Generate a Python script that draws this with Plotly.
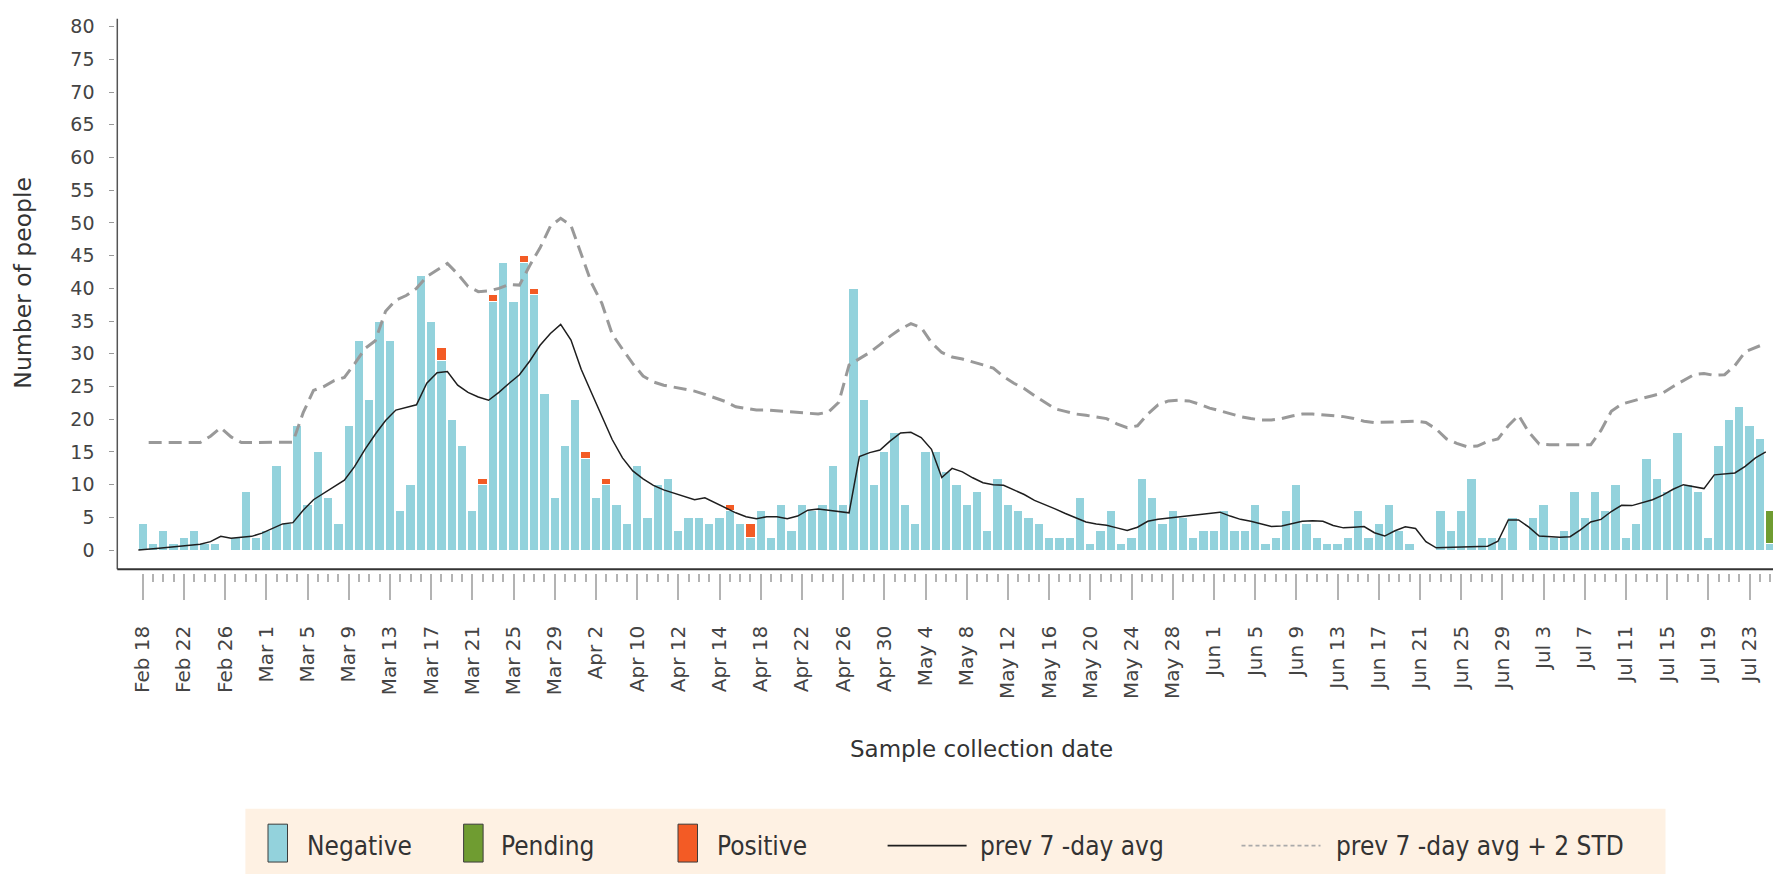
import plotly.graph_objects as go

W, H = 1773, 874

# ---------------- data ----------------
tick_labels = ["Feb 18", "Feb 22", "Feb 26", "Mar 1", "Mar 5", "Mar 9", "Mar 13", "Mar 17",
               "Mar 21", "Mar 25", "Mar 29", "Apr 2", "Apr 10", "Apr 12", "Apr 14", "Apr 18",
               "Apr 22", "Apr 26", "Apr 30", "May 4", "May 8", "May 12", "May 16", "May 20",
               "May 24", "May 28", "Jun 1", "Jun 5", "Jun 9", "Jun 13", "Jun 17", "Jun 21",
               "Jun 25", "Jun 29", "Jul 3", "Jul 7", "Jul 11", "Jul 15", "Jul 19", "Jul 23"]
LABEL_EVERY = 4

negative = [4, 1, 3, 1, 2, 3, 1, 1, None, 2,
            9, 2, 3, 13, 4, 19, 7, 15, 8, 4,
            19, 32, 23, 35, 32, 6, 10, 42, 35, 29,
            20, 16, 6, 10, 38, 44, 38, 44, 39, 24,
            8, 16, 23, 14, 8, 10, 7, 4, 13, 5,
            10, 11, 3, 5, 5, 4, 5, 6, 4, 2,
            6, 2, 7, 3, 7, 6, 7, 13, 7, 40,
            23, 10, 15, 18, 7, 4, 15, 15, 12, 10,
            7, 9, 3, 11, 7, 6, 5, 4, 2, 2,
            2, 8, 1, 3, 6, 1, 2, 11, 8, 4,
            6, 5, 2, 3, 3, 6, 3, 3, 7, 1,
            2, 6, 10, 4, 2, 1, 1, 2, 6, 2,
            4, 7, 3, 1, None, None, 6, 3, 6, 11,
            2, 2, 2, 5, None, 5, 7, 2, 3, 9,
            5, 9, 6, 10, 2, 4, 14, 11, 9, 18,
            10, 9, 2, 16, 20, 22, 19, 17, 1]

pending = [None] * 158 + [5]

positive = [None] * 159
for day_i, count in [(29, 2), (33, 1), (34, 1), (37, 1), (38, 1), (43, 1), (45, 1), (57, 1), (59, 2)]:
    positive[day_i] = count

avg7 = [0, 0.2, 0.3, 0.45, 0.6, 0.75, 0.9, 1.3, 2.1, 1.8,
        1.95, 2.1, 2.6, 3.25, 4.0, 4.2, 6.1, 7.7, 8.7, 9.6,
        10.7, 12.8, 15.4, 17.7, 19.8, 21.4, 21.8, 22.2, 25.5, 27.1,
        27.3, 25.2, 24.1, 23.4, 22.9, 24.1, 25.5, 26.8, 28.9, 31.3,
        33.1, 34.5, 32.1, 27.6, 24.0, 20.5, 16.9, 14.1, 12.1, 10.9,
        9.9, 9.2, 8.7, 8.3, 7.7, 8.0, 7.2, 6.5, 5.7, 5.1,
        4.8, 5.1, 5.1, 4.8, 5.2, 6.1, 6.3, 6.1, 5.9, 5.7,
        14.3, 14.9, 15.3, 16.7, 17.9, 18.0, 17.2, 15.4, 11.1, 12.5,
        11.95, 11.05, 10.3, 10.0, 9.9, 9.2, 8.5, 7.6, 7.0, 6.3,
        5.6, 5.0, 4.3, 4.0, 3.8, 3.4, 3.0, 3.5, 4.4, 4.7,
        4.9, 5.0, 5.3, 5.5, 5.6, 5.8, 5.2, 4.7, 4.4, 4.0,
        3.6, 3.7, 4.1, 4.4, 4.5, 4.4, 3.75, 3.4, 3.5, 3.6,
        2.65, 2.15, 2.95, 3.55, 3.3, 1.3, 0.35, 0.4, 0.45, 0.5,
        0.55, 0.6, 1.35, 4.6, 4.6, 3.5, 2.15, 2.0, 1.95, 2.05,
        3.1, 4.3, 4.7, 5.9, 6.85, 6.8, 7.2, 7.7, 8.4, 9.3,
        10.0, 9.7, 9.4, 11.5, 11.65, 11.8, 12.8, 14.1, 15.0]

avg7_2std = [None, 16.45, 16.45, 16.45, 16.45, 16.45, 16.45, 17.4, 18.7, 17.3,
             16.45, 16.45, 16.45, 16.45, 16.45, 16.5, 21.0, 24.4, 25.0, 25.9,
             26.4, 28.5, 30.8, 32.0, 36.5, 38.2, 38.9, 40.0, 41.8, 42.8,
             43.8, 42.2, 40.3, 39.5, 39.6, 40.0, 40.6, 40.5, 43.5, 46.2,
             49.5, 50.7, 49.6, 45.2, 40.8, 37.7, 33.0, 30.7, 28.5, 26.6,
             25.7, 25.2, 24.9, 24.6, 24.3, 23.8, 23.2, 22.7, 21.9, 21.6,
             21.4, 21.4, 21.3, 21.1, 21.0, 20.9, 20.8, 21.1, 22.6, 28.3,
             29.3, 30.2, 31.4, 32.7, 33.8, 34.6, 34.0, 31.7, 30.2, 29.5,
             29.2, 28.8, 28.3, 27.8, 26.5, 25.5, 24.7, 23.6, 22.6, 21.6,
             21.2, 20.8, 20.6, 20.4, 20.1, 19.3, 18.7, 19.0, 20.8, 22.2,
             22.8, 22.9, 22.8, 22.3, 21.7, 21.3, 20.8, 20.4, 20.1, 19.9,
             19.9, 20.1, 20.5, 20.8, 20.8, 20.7, 20.6, 20.4, 20.1, 19.7,
             19.5, 19.55, 19.6, 19.65, 19.7, 19.5, 18.5, 17.0, 16.3, 15.8,
             15.9, 16.6, 17.0, 19.0, 20.6, 18.0, 16.2, 16.1, 16.1, 16.1,
             16.1, 16.1, 18.3, 21.2, 22.3, 22.8, 23.2, 23.6, 24.0, 25.0,
             25.9, 26.8, 27.0, 26.7, 26.8, 28.2, 30.3, 30.9, 31.6]

series_names = ["Negative", "Pending", "Positive", "prev 7 -day avg", "prev 7 -day avg + 2 STD"]

# ---------------- styling ----------------
C_NEG = "#93d2dc"
C_PEN = "#6f9c31"
C_POS = "#f35b25"
C_AVG = "#1e1e1e"
C_STD = "#999999"
FONT = "DejaVu Sans"
LEG_FONT = "Liberation Sans Narrow, DejaVu Sans Condensed, Arial Narrow, sans-serif"

days = list(range(len(negative)))
LINE_SHIFT = -0.42          # lines are drawn at the left edge of each day's band
line_x = [d + LINE_SHIFT for d in days]
BAR_W = 0.9


def px(x):
    return x / W


def py(y):
    return 1 - y / H


fig = go.Figure()
for name, vals, col in [(series_names[0], negative, C_NEG),
                        (series_names[1], pending, C_PEN),
                        (series_names[2], positive, C_POS)]:
    fig.add_trace(go.Bar(x=days, y=vals, name=name, width=BAR_W,
                         marker=dict(color=col, line=dict(color="white", width=1)),
                         showlegend=False))

fig.add_trace(go.Scatter(x=line_x, y=avg7, name=series_names[3], mode="lines",
                         line=dict(color=C_AVG, width=1.5), showlegend=False))
fig.add_trace(go.Scatter(x=line_x, y=avg7_2std, name=series_names[4], mode="lines",
                         line=dict(color=C_STD, width=3, dash="13px,7px"),
                         showlegend=False, connectgaps=False))

# plot-area geometry (pixels)
PL, PT, PB = 117.3, 15.8, 568.3

fig.update_layout(
    width=W, height=H,
    margin=dict(l=0, r=0, t=0, b=0),
    paper_bgcolor="white", plot_bgcolor="white",
    barmode="stack",
    xaxis=dict(
        domain=[px(PL), 1], anchor="free", position=py(PB + 3.4),
        range=[-2.466, 158.28],
        tickmode="array", tickvals=days[::LABEL_EVERY], ticktext=tick_labels,
        tickangle=-90,
        ticks="outside", ticklen=26, tickwidth=1.5, tickcolor="#b3b3b3",
        minor=dict(ticks="outside", ticklen=8, tickwidth=1.5, tickcolor="#b3b3b3",
                   tickmode="array", tickvals=days),
        showline=False, showgrid=False, zeroline=False,
        tickfont=dict(family=FONT, size=20, color="#444"),
        ticklabelstandoff=18,
    ),
    yaxis=dict(
        domain=[py(PB), py(PT)], anchor="free", position=px(PL - 3),
        range=[-2.94, 81.2],
        tickmode="linear", tick0=0, dtick=5,
        ticks="outside", ticklen=5, tickwidth=1.2, tickcolor="#999",
        showline=False, showgrid=False, zeroline=False,
        tickfont=dict(family=FONT, size=19, color="#444"),
        ticklabelstandoff=11,
    ),
    showlegend=False,
)

shapes = [
    # axis lines
    dict(type="line", xref="x domain", yref="y domain", x0=0, x1=0, y0=0, y1=1,
         line=dict(color="#555", width=1.5)),
    dict(type="line", xref="x domain", yref="y domain", x0=0, x1=1, y0=0, y1=0,
         line=dict(color="#333", width=2)),
    # legend box
    dict(type="rect", xref="paper", yref="paper", x0=px(245.4), x1=px(1665.5),
         y0=py(874), y1=py(808.4), fillcolor="#fef1e3", line=dict(width=0), layer="below"),
]

LEG_Y = 845.5
legend_items = [
    ("swatch", C_NEG, 268, 305, series_names[0]),
    ("swatch", C_PEN, 463.6, 498.6, series_names[1]),
    ("swatch", C_POS, 678, 714.6, series_names[2]),
    ("line", C_AVG, 887.6, 978, series_names[3]),
    ("dash", "#aaa", 1241.5, 1334, series_names[4]),
]
annotations = []
for kind, col, x0, tx, label in legend_items:
    if kind == "swatch":
        shapes.append(dict(type="rect", xref="paper", yref="paper",
                           x0=px(x0), x1=px(x0 + 19.5), y0=py(862), y1=py(824),
                           fillcolor=col, line=dict(color="#3c3c3c", width=1)))
    elif kind == "line":
        shapes.append(dict(type="line", xref="paper", yref="paper",
                           x0=px(x0), x1=px(x0 + 79), y0=py(LEG_Y), y1=py(LEG_Y),
                           line=dict(color=col, width=1.6)))
    else:
        shapes.append(dict(type="line", xref="paper", yref="paper",
                           x0=px(x0), x1=px(x0 + 79), y0=py(LEG_Y), y1=py(LEG_Y),
                           line=dict(color=col, width=1.6, dash="4px,3px")))
    annotations.append(dict(xref="paper", yref="paper", x=px(tx), y=py(LEG_Y),
                            text=label, showarrow=False, xanchor="left", yanchor="middle",
                            font=dict(family=LEG_FONT, size=26, color="#333")))

annotations.append(dict(xref="paper", yref="paper", x=px(22.6), y=py(281),
                        text="Number of people", textangle=-90, showarrow=False,
                        xanchor="center", yanchor="middle",
                        font=dict(family=FONT, size=23.5, color="#333")))
annotations.append(dict(xref="paper", yref="paper", x=px(981), y=py(748.5),
                        text="Sample collection date", showarrow=False,
                        xanchor="center", yanchor="middle",
                        font=dict(family=FONT, size=23, color="#333")))

fig.update_layout(shapes=shapes, annotations=annotations)
fig.write_html("out.html",
               config={"displayModeBar": False},
               post_script="document.body.style.margin='0';"
                           "document.body.style.overflow='hidden';")
